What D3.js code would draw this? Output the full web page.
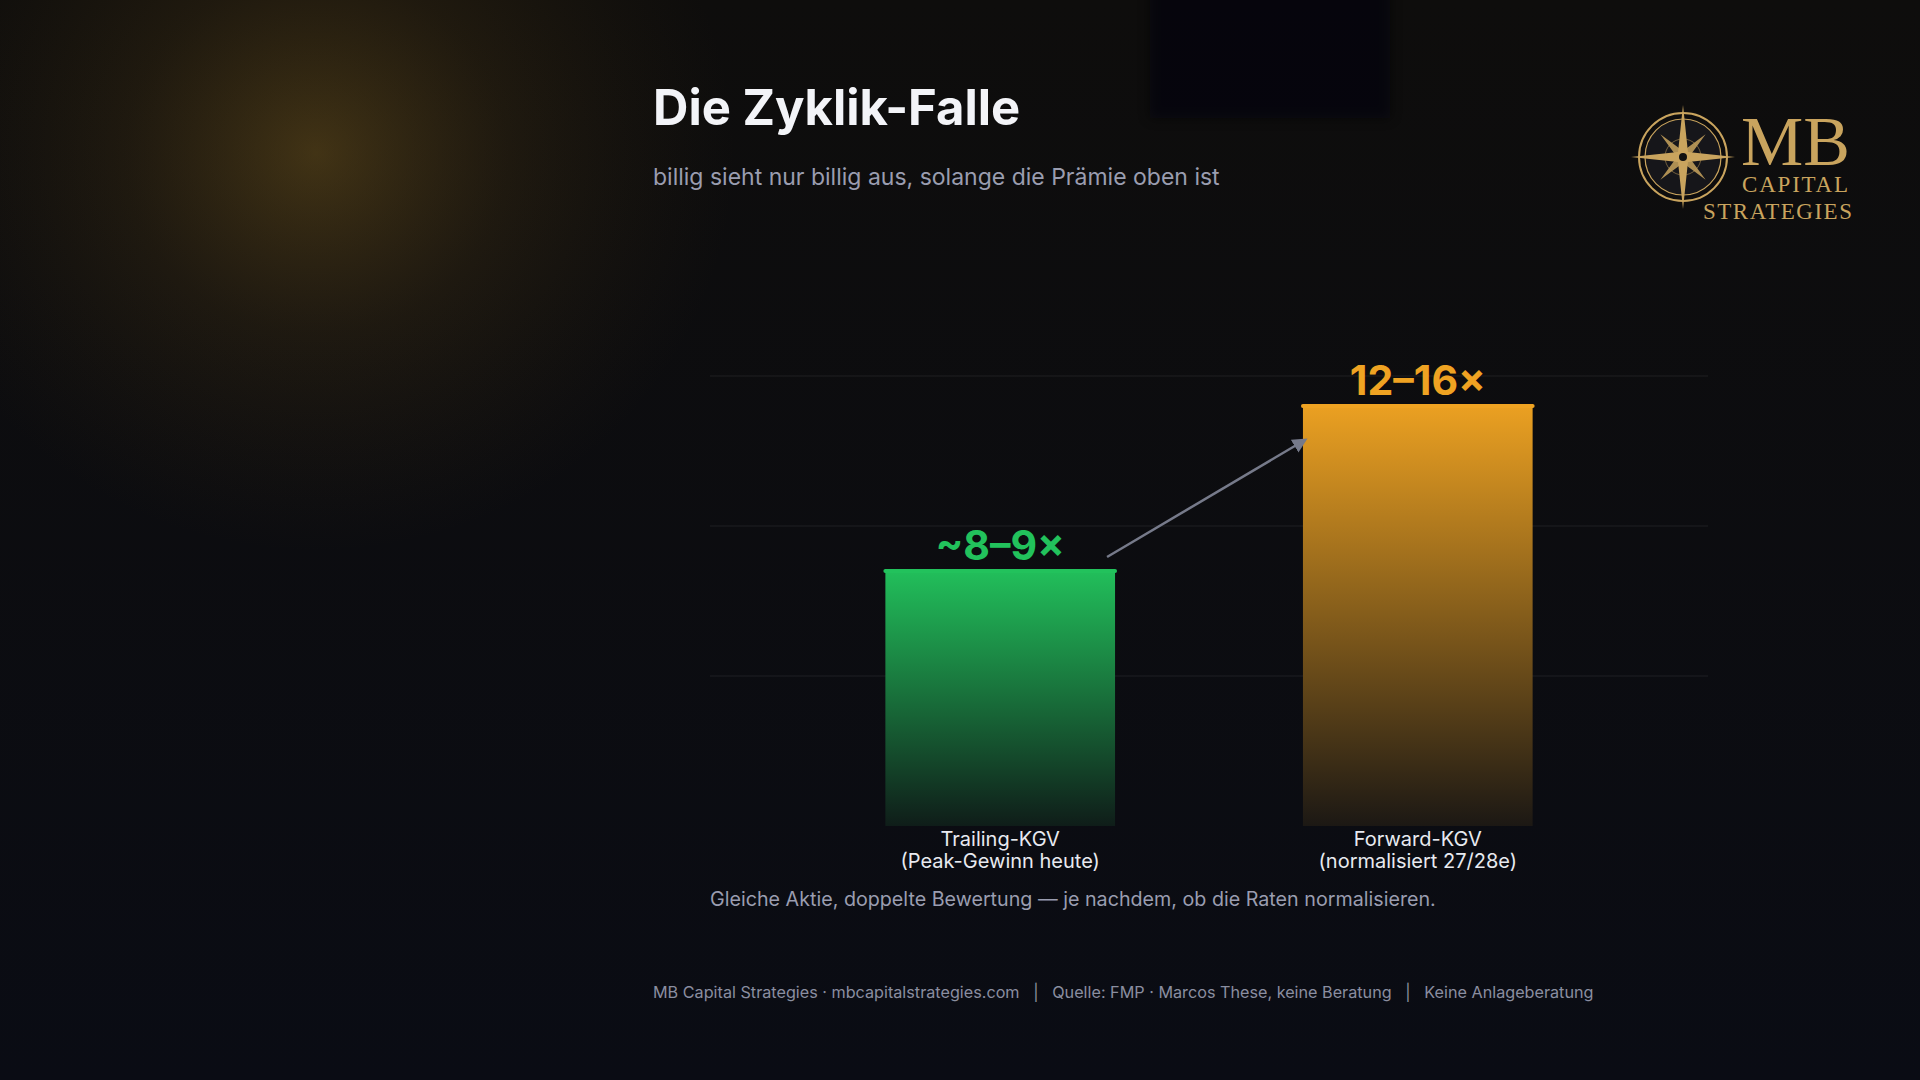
<!DOCTYPE html>
<html>
<head>
<meta charset="utf-8">
<script src="https://cdn.jsdelivr.net/npm/d3@7"></script>
<style>
  html, body { margin: 0; padding: 0; background: #0a0c13; }
  svg { display: block; font-family: Inter, "Noto Sans", sans-serif; }
</style>
</head>
<body>
<div id="chart"></div>
<script>
// data
const categories = ["Trailing-KGV", "Forward-KGV"];
const subLabels = ["(Peak-Gewinn heute)", "(normalisiert 27/28e)"];
const values = [8.5, 14];
const valueLabels = ["~8–9×", "12–16×"];
const gridTicks = [5, 10, 15];

const W = 1920, H = 1080;
const colors = ["#22c25c", "#efa322"];
const darkEnds = ["#0f1d19", "#1c1814"];

const svg = d3.select("#chart").append("svg")
  .attr("width", W).attr("height", H);

const defs = svg.append("defs");

// background
const bg = defs.append("linearGradient").attr("id", "bg")
  .attr("x1", 0).attr("y1", 0).attr("x2", 0).attr("y2", 1);
bg.append("stop").attr("offset", "0%").attr("stop-color", "#0e0d0c");
bg.append("stop").attr("offset", "100%").attr("stop-color", "#0a0c14");

const glow = defs.append("radialGradient").attr("id", "glow")
  .attr("cx", 0.5).attr("cy", 0.5).attr("r", 0.5);
glow.append("stop").attr("offset", "0%").attr("stop-color", "#c8962a").attr("stop-opacity", 0.28);
glow.append("stop").attr("offset", "45%").attr("stop-color", "#a07420").attr("stop-opacity", 0.12);
glow.append("stop").attr("offset", "100%").attr("stop-color", "#6a4a10").attr("stop-opacity", 0);

defs.append("filter").attr("id", "soft")
  .attr("x", "-20%").attr("y", "-20%").attr("width", "140%").attr("height", "140%")
  .append("feGaussianBlur").attr("stdDeviation", 6);

svg.append("rect").attr("width", W).attr("height", H).attr("fill", "url(#bg)");
svg.append("ellipse").attr("cx", 316).attr("cy", 153).attr("rx", 420).attr("ry", 400)
  .attr("fill", "url(#glow)");
svg.append("rect").attr("x", 1150).attr("y", -20).attr("width", 240).attr("height", 138)
  .attr("fill", "#02040e").attr("opacity", 0.55).attr("filter", "url(#soft)");

// title
svg.append("text").attr("x", 653).attr("y", 125)
  .attr("fill", "#f3f4f8").attr("font-size", 49).attr("font-weight", 700)
  .text("Die Zyklik-Falle");
svg.append("text").attr("x", 653).attr("y", 185)
  .attr("fill", "#9a9db0").attr("font-size", 23)
  .text("billig sieht nur billig aus, solange die Prämie oben ist");

// chart
const x = d3.scaleBand().domain(categories).range([710, 1708])
  .paddingInner(0.45).paddingOuter(0.42);
const y = d3.scaleLinear().domain([0, 15]).range([826, 376]);

svg.append("g").selectAll("line").data(gridTicks).join("line")
  .attr("x1", 710).attr("x2", 1708)
  .attr("y1", d => y(d)).attr("y2", d => y(d))
  .attr("stroke", "#ffffff").attr("stroke-opacity", 0.08).attr("stroke-width", 1);

categories.forEach((c, i) => {
  const g = defs.append("linearGradient").attr("id", "bar" + i)
    .attr("x1", 0).attr("y1", 0).attr("x2", 0).attr("y2", 1);
  g.append("stop").attr("offset", "0%").attr("stop-color", colors[i]).attr("stop-opacity", 0.98);
  g.append("stop").attr("offset", "100%").attr("stop-color", darkEnds[i]).attr("stop-opacity", 1);
});

const bars = svg.append("g");
bars.selectAll("rect.bar").data(values).join("rect").attr("class", "bar")
  .attr("x", (d, i) => x(categories[i]))
  .attr("y", d => y(d))
  .attr("width", x.bandwidth())
  .attr("height", d => y(0) - y(d))
  .attr("fill", (d, i) => `url(#bar${i})`);

// bright cap on top of each bar
bars.selectAll("rect.cap").data(values).join("rect").attr("class", "cap")
  .attr("x", (d, i) => x(categories[i]) - 2)
  .attr("y", d => y(d) - 2)
  .attr("width", x.bandwidth() + 4)
  .attr("height", 4).attr("rx", 2)
  .attr("fill", (d, i) => colors[i]);

bars.selectAll("text.val").data(values).join("text").attr("class", "val")
  .attr("x", (d, i) => x(categories[i]) + x.bandwidth() / 2)
  .attr("y", d => y(d) - 11)
  .attr("text-anchor", "middle")
  .attr("font-size", 41).attr("font-weight", 700)
  .attr("fill", (d, i) => colors[i])
  .text((d, i) => valueLabels[i]);

const catText = svg.append("g").selectAll("text").data(categories).join("text")
  .attr("x", d => x(d) + x.bandwidth() / 2)
  .attr("y", y(0) + 20)
  .attr("text-anchor", "middle")
  .attr("font-size", 20).attr("fill", "#e8eaf0");
catText.append("tspan").attr("x", d => x(d) + x.bandwidth() / 2).text(d => d);
catText.append("tspan").attr("x", d => x(d) + x.bandwidth() / 2).attr("dy", 22)
  .text((d, i) => subLabels[i]);

// arrow between bars
defs.append("marker").attr("id", "arrow")
  .attr("viewBox", "0 0 10 10").attr("refX", 8).attr("refY", 5)
  .attr("markerWidth", 6).attr("markerHeight", 6).attr("orient", "auto")
  .append("path").attr("d", "M0,0 L10,5 L0,10 z").attr("fill", "#767a8a");

svg.append("line")
  .attr("x1", x(categories[0]) + x.bandwidth() - 8)
  .attr("y1", y(values[0]) - 14)
  .attr("x2", x(categories[1]) + 2)
  .attr("y2", y(values[1]) + 34)
  .attr("stroke", "#767a8a").attr("stroke-width", 2.5)
  .attr("marker-end", "url(#arrow)");

svg.append("text").attr("x", 710).attr("y", 906)
  .attr("fill", "#9a9db0").attr("font-size", 19.7)
  .text("Gleiche Aktie, doppelte Bewertung — je nachdem, ob die Raten normalisieren.");

svg.append("text").attr("x", 653).attr("y", 998)
  .attr("fill", "#8a8ea0").attr("font-size", 16.2)
  .attr("xml:space", "preserve")
  .text("MB Capital Strategies · mbcapitalstrategies.com   |   Quelle: FMP · Marcos These, keine Beratung   |   Keine Anlageberatung");

// logo
const gold = "#c9a45e";
const logo = svg.append("g");
const cx = 1683, cy = 157;
logo.append("circle").attr("cx", cx).attr("cy", cy).attr("r", 44)
  .attr("fill", "none").attr("stroke", gold).attr("stroke-width", 2);
logo.append("circle").attr("cx", cx).attr("cy", cy).attr("r", 38)
  .attr("fill", "#16161a").attr("stroke", gold).attr("stroke-width", 1.2);
logo.append("circle").attr("cx", cx).attr("cy", cy).attr("r", 18)
  .attr("fill", "none").attr("stroke", gold).attr("stroke-opacity", 0.5).attr("stroke-width", 1);
const star = (len, w, angle) => {
  const a = angle * Math.PI / 180;
  const pts = [];
  for (let k = 0; k < 4; k++) {
    const t = a + k * Math.PI / 2;
    pts.push([cx + Math.cos(t) * len, cy + Math.sin(t) * len]);
    const t2 = t + Math.PI / 4;
    pts.push([cx + Math.cos(t2) * w, cy + Math.sin(t2) * w]);
  }
  return "M" + pts.map(p => p.join(",")).join("L") + "Z";
};
logo.append("path").attr("d", star(32, 6, 45)).attr("fill", gold).attr("opacity", 0.85);
logo.append("path").attr("d", star(52, 7, 0)).attr("fill", gold);
logo.append("circle").attr("cx", cx).attr("cy", cy).attr("r", 4).attr("fill", "#111");

logo.append("text").attr("x", 1741).attr("y", 165)
  .attr("font-family", "'Liberation Serif', 'DejaVu Serif', serif")
  .attr("font-size", 70).attr("fill", gold).text("MB");
logo.append("text").attr("x", 1742).attr("y", 192)
  .attr("font-family", "'Liberation Serif', 'DejaVu Serif', serif")
  .attr("font-size", 23).attr("letter-spacing", 1.8).attr("fill", gold).text("CAPITAL");
logo.append("text").attr("x", 1703).attr("y", 219)
  .attr("font-family", "'Liberation Serif', 'DejaVu Serif', serif")
  .attr("font-size", 23).attr("letter-spacing", 1.5).attr("fill", gold).text("STRATEGIES");
</script>
</body>
</html>
